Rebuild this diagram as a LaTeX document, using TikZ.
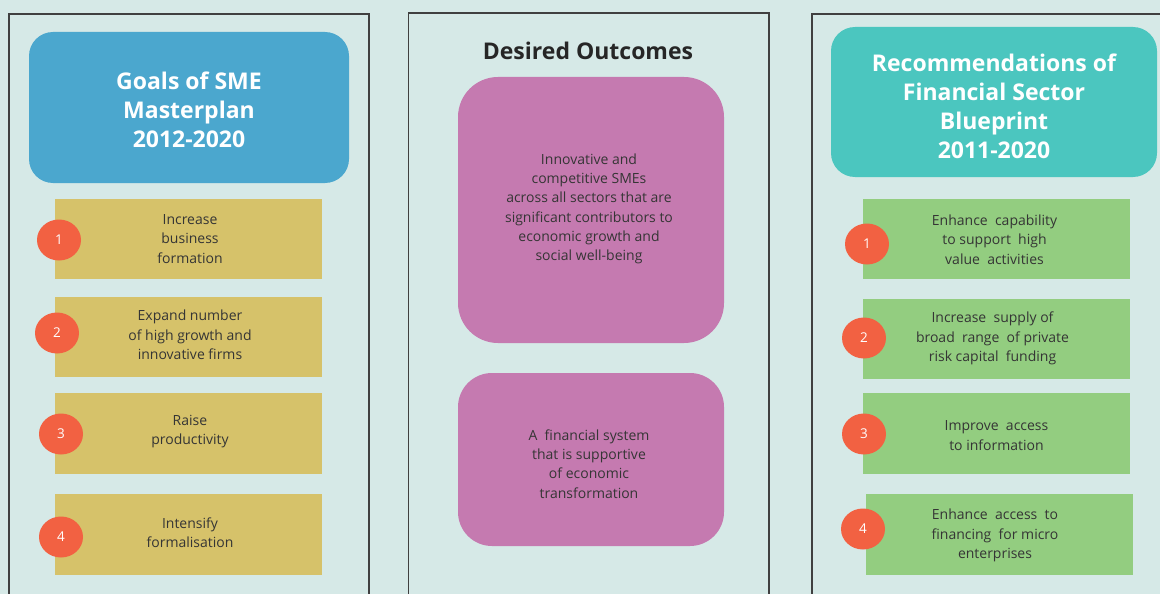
\documentclass[tikz,border=0pt]{standalone}
\usepackage{fontspec}
\setmainfont{Open Sans}
\usetikzlibrary{shapes.geometric}
\definecolor{bgteal}{HTML}{D6E9E7}
\definecolor{framegray}{HTML}{404040}
\definecolor{goalblue}{HTML}{4BA7CE}
\definecolor{recteal}{HTML}{4BC6BF}
\definecolor{goalsand}{HTML}{D6C26A}
\definecolor{recgreen}{HTML}{93CD80}
\definecolor{outpurple}{HTML}{C57AB0}
\definecolor{badgered}{HTML}{F26142}
\definecolor{bodytext}{HTML}{353535}
\tikzset{
  frame/.style={draw=framegray, line width=1.2pt},
  header/.style={rounded corners=24pt, inner sep=0pt},
  headtext/.style={inner sep=0pt, text=white, align=center,
    font=\fontsize{23}{29}\selectfont\bfseries},
  itembox/.style={inner sep=0pt},
  itemtext/.style={inner sep=0pt, text=bodytext, align=center,
    font=\fontsize{14}{19.3}\selectfont},
  badge/.style={ellipse, fill=badgered, inner sep=0pt, minimum width=44pt,
    minimum height=41pt, text=white, font=\fontsize{13.5}{16}\selectfont}
}
\begin{document}
\begin{tikzpicture}[x=1pt,y=-1pt]
\useasboundingbox (0,0) rectangle (1160,594);
\fill[bgteal] (0,0) rectangle (1160,594);

% panel frames (open at the bottom)
\draw[frame] (9,600) -- (9,14) -- (369,14) -- (369,600);
\draw[frame] (408.5,600) -- (408.5,13) -- (769,13) -- (769,600);
\draw[frame] (812,600) -- (812,14) -- (1170,14);

% ---------- left column: SME Masterplan goals ----------
\node[header, fill=goalblue, minimum width=320pt, minimum height=151pt]
  (goalhead) at (189,107.5) {};
\node[headtext] (goaltitle) at ([yshift=-2.5pt]goalhead.center)
  {Goals of SME\\Masterplan\\2012-2020};

\node[itembox, fill=goalsand, minimum width=267pt, minimum height=80pt] (g1) at (188.5,239) {};
\node[itembox, fill=goalsand, minimum width=267pt, minimum height=80pt] (g2) at (188.5,337) {};
\node[itembox, fill=goalsand, minimum width=267pt, minimum height=81pt] (g3) at (188.5,433.5) {};
\node[itembox, fill=goalsand, minimum width=267pt, minimum height=81pt] (g4) at (188.5,534.5) {};
\node[itemtext] (g1t) at ([xshift=1.5pt]g1.center) {Increase\\business\\formation};
\node[itemtext] (g2t) at ([xshift=1.5pt,yshift=2pt]g2.center) {Expand number\\of high growth and\\innovative firms};
\node[itemtext] (g3t) at ([xshift=1.5pt,yshift=2pt]g3.center) {Raise\\productivity};
\node[itemtext] (g4t) at ([xshift=1.5pt,yshift=2pt]g4.center) {Intensify\\formalisation};

\node[badge] (gb1) at (59,240) {1};
\node[badge] (gb2) at (57,333) {2};
\node[badge] (gb3) at (61,434) {3};
\node[badge] (gb4) at (61,537) {4};

% ---------- middle column: desired outcomes ----------
\node[text=black!85, font=\fontsize{23}{27}\selectfont\bfseries]
  (outhead) at (588,51) {Desired Outcomes};
\node[itembox, fill=outpurple, rounded corners=40pt, minimum width=266pt, minimum height=266pt]
  (o1) at (591,210) {};
\node[itembox, fill=outpurple, rounded corners=34pt, minimum width=266pt, minimum height=173pt]
  (o2) at (591,459.5) {};
\node[itemtext] (o1t) at ([xshift=-2pt,yshift=1pt]o1.center)
  {Innovative and\\competitive SMEs\\across all sectors that are\\significant contributors to\\economic growth and\\social well-being};
\node[itemtext] (o2t) at ([xshift=-2pt,yshift=-4.5pt]o2.center)
  {A\ \ financial system\\that is supportive\\of economic\\transformation};

% ---------- right column: Financial Sector Blueprint ----------
\node[header, fill=recteal, minimum width=326pt, minimum height=150pt]
  (rechead) at (994,102) {};
\node[headtext] (rectitle) at ([yshift=-4pt]rechead.center)
  {Recommendations of\\Financial Sector\\Blueprint\\2011-2020};

\node[itembox, fill=recgreen, minimum width=267pt, minimum height=80pt] (r1) at (996.5,239) {};
\node[itembox, fill=recgreen, minimum width=267pt, minimum height=80pt] (r2) at (996.5,338.5) {};
\node[itembox, fill=recgreen, minimum width=267pt, minimum height=81pt] (r3) at (996.5,433.5) {};
\node[itembox, fill=recgreen, minimum width=267pt, minimum height=81pt] (r4) at (999.5,534.5) {};
\node[itemtext] (r1t) at ([xshift=-2pt,yshift=-0.5pt]r1.center) {Enhance\ \ capability\\to support\ \ high\\value\ \ activities};
\node[itemtext] (r2t) at ([xshift=-4pt]r2.center) {Increase\ \ supply of\\broad\ \ range\ \ of private\\risk capital\ \ funding};
\node[itemtext] (r3t) at ([xshift=0pt,yshift=-2pt]r3.center) {Improve\ \ access\\to information};
\node[itemtext] (r4t) at ([xshift=-4.5pt,yshift=-1pt]r4.center) {Enhance\ \ access\ \ to\\financing\ \ for micro\\enterprises};

\node[badge] (rb1) at (867,244) {1};
\node[badge] (rb2) at (864,338) {2};
\node[badge] (rb3) at (864,434) {3};
\node[badge] (rb4) at (863,529) {4};
\end{tikzpicture}
\end{document}
